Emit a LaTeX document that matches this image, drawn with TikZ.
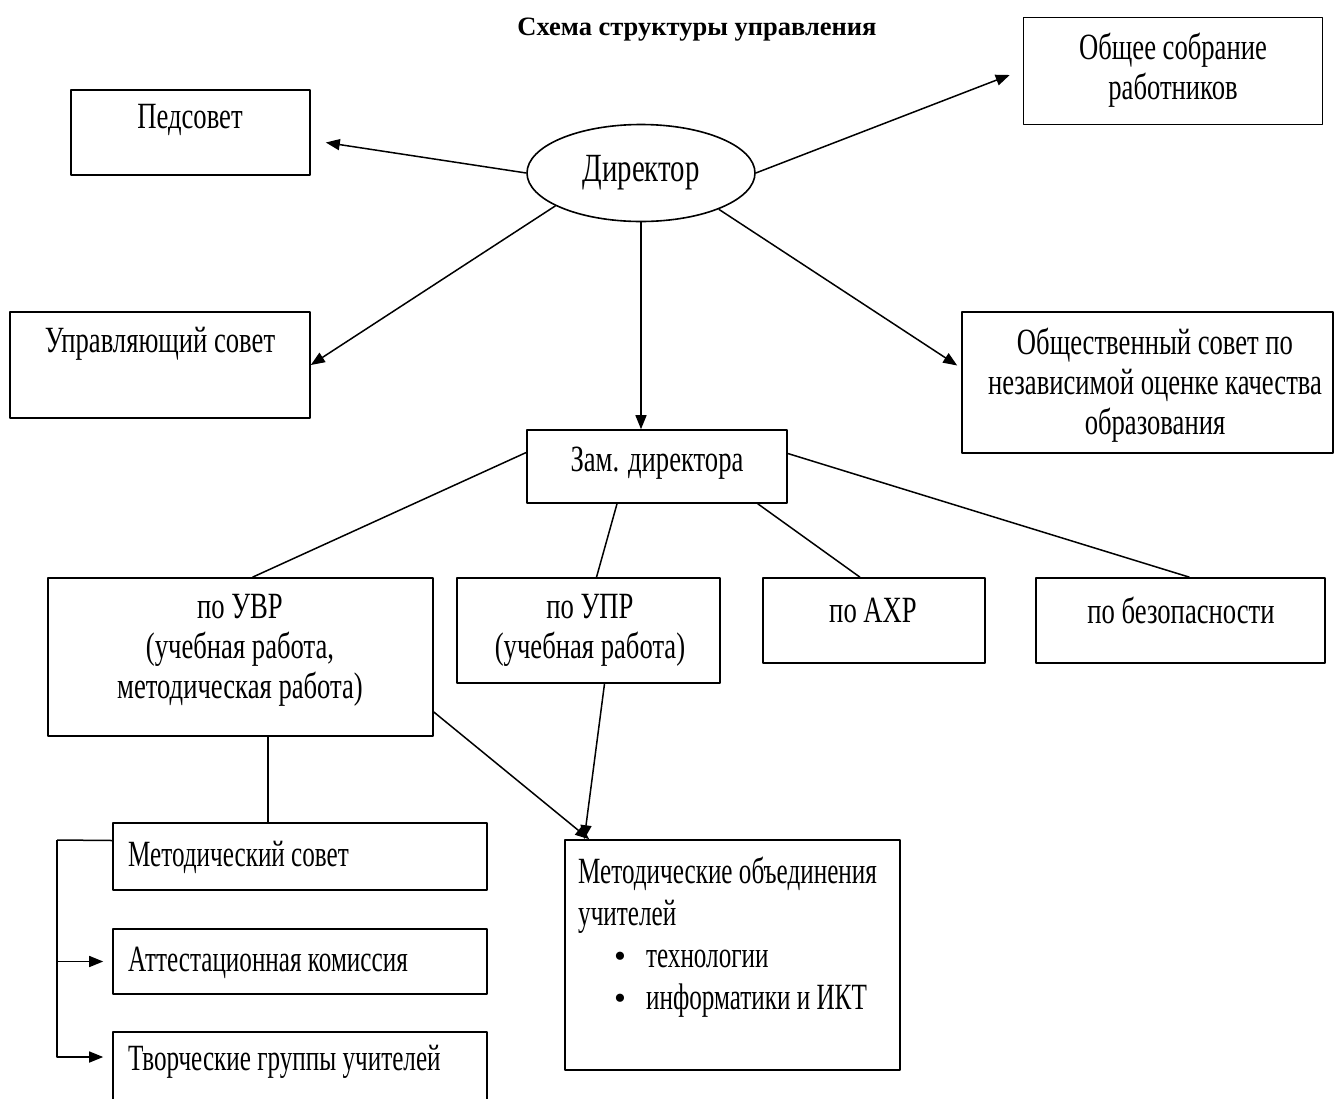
\documentclass[tikz,border=0pt]{standalone}
\usepackage{fontspec}
\setmainfont[FakeStretch=0.72]{Liberation Serif}
\newfontfamily\titlefont{Liberation Serif}
\newfontfamily\narrowfont[FakeStretch=0.68]{Liberation Serif}
\usetikzlibrary{arrows.meta,shapes.geometric}

\tikzset{
  box/.style 2 args={draw,line width=1.6pt,minimum width=#1,minimum height=#2,inner sep=0pt},
  txt/.style={inner sep=0pt,align=center,font=\fontsize{37}{40}\selectfont},
  ltxt/.style={inner sep=0pt,align=left,anchor=west,font=\narrowfont\fontsize{37}{42}\selectfont},
  link/.style={line width=1.5pt},
}
\newcommand{\mobullet}{{\titlefont\fontsize{34}{42}\selectfont\textbullet}}

\begin{document}
\begin{tikzpicture}[x=1pt,y=-1pt,>={Triangle[length=14pt,width=11pt]},line join=round]
\useasboundingbox (0,0) rectangle (1335,1098);
\node[inner sep=0pt,font=\titlefont\bfseries\fontsize{26.5}{30}\selectfont] (title) at (697,30) {Схема структуры управления};

% директор и советы
\node[draw,ellipse,line width=1.6pt,minimum width=228pt,minimum height=97pt,inner sep=0pt,font=\fontsize{40}{44}\selectfont] (dir) at (641,173) {Директор};
\node[box={239pt}{85pt}] (ped) at (190.5,132.5) {};
\node[txt] (ped-t) at (190,120) {Педсовет};
\node[box={299pt}{107pt}] (obsh) at (1173,71) {};
\node[txt] (obsh-t) at (1173,70) {Общее собрание\\работников};
\node[box={300pt}{106pt}] (upr) at (160,365) {};
\node[txt] (upr-t) at (160,344) {Управляющий совет};
\node[box={371pt}{141pt}] (obs) at (1147.5,382.5) {};
\node[txt] (obs-t) at (1155,385) {Общественный совет по\\независимой оценке качества\\образования};

% заместители
\node[box={260pt}{73pt}] (zam) at (657,466.5) {};
\node[txt] (zam-t) at (657,463) {Зам. директора};
\node[box={385pt}{158pt}] (uvr) at (240.5,657) {};
\node[txt] (uvr-t) at (240,650) {по УВР\\(учебная работа,\\методическая работа)};
\node[box={263pt}{105pt}] (upr2) at (588.5,630.5) {};
\node[txt] (upr2-t) at (590,630) {по УПР\\(учебная работа)};
\node[box={222pt}{85pt}] (ahr) at (874,620.5) {};
\node[txt] (ahr-t) at (873,610) {по АХР};
\node[box={289pt}{85pt}] (bez) at (1180.5,620.5) {};
\node[txt] (bez-t) at (1181,610) {по безопасности};

% методическая служба
\node[box={374pt}{67pt}] (msov) at (300,856.5) {};
\node[ltxt] (msov-t) at (128,857) {Методический совет};
\node[box={374pt}{65pt}] (att) at (300,961.5) {};
\node[ltxt] (att-t) at (128,963) {Аттестационная комиссия};
\node[box={374pt}{70pt}] (tg) at (300,1067) {};
\node[ltxt] (tg-t) at (128,1062) {Творческие группы учителей};
\node[box={335pt}{230pt}] (mo) at (732.5,955) {};
\node[ltxt] (mo-t) at (578,937) {Методические объединения\\учителей\\\hspace*{36pt}\mobullet\hspace{20pt}технологии\\\hspace*{36pt}\mobullet\hspace{20pt}информатики и ИКТ};
\coordinate (brk) at (57,840);

% связи
\draw[link,->] (dir.west) -- ([xshift=15pt,yshift=-10pt]ped.east);
\draw[link,->] (dir.east) -- ([xshift=-13pt,yshift=-4pt]obsh.west);
\draw[link,->] (dir.201) -- (upr.east);
\draw[link,->] (dir.-25) -- ([xshift=-4pt,yshift=17pt]obs.west);
\draw[link,->] (dir.south) -- (dir.south |- zam.north);
\draw[link] ([yshift=14pt]zam.west) -- ([xshift=12pt]uvr.north);
\draw[link] ([xshift=-40pt]zam.south) -- ([xshift=8pt]upr2.north);
\draw[link] ([xshift=-30pt]zam.south east) -- ([xshift=-14pt]ahr.north);
\draw[link] ([yshift=13pt]zam.east) -- ([xshift=9pt]bez.north);
\draw[link,->] ([yshift=-55pt]uvr.east) -- ([xshift=25pt]mo.north west);
\draw[link,->] ([xshift=16pt]upr2.south) -- ([xshift=20pt]mo.north west);
\draw[link] ([xshift=27.5pt]uvr.south) -- ([xshift=27.5pt]uvr.south |- msov.north);
\draw[link] ([yshift=16pt]msov.west) -- (brk);
\draw[link,->] (brk) |- ([xshift=-9pt,yshift=10pt]tg.west);
\draw[link,->] (brk |- att.west) -- ([xshift=-9pt]att.west);
\end{tikzpicture}
\end{document}
